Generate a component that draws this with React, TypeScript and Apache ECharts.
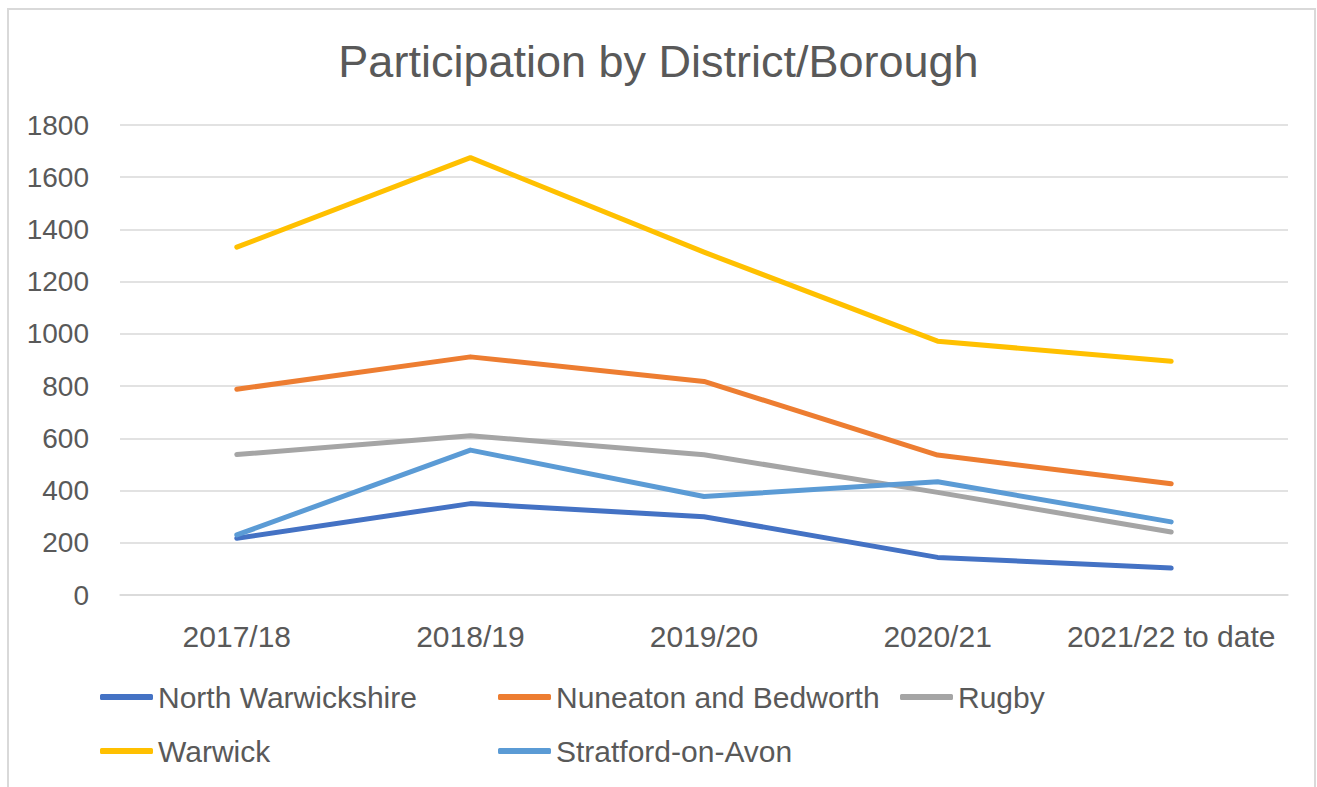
import React, { useEffect, useRef } from "react";
import * as echarts from "echarts";

const categories = ["2017/18", "2018/19", "2019/20", "2020/21", "2021/22 to date"];
const seriesNames = ["North Warwickshire", "Nuneaton and Bedworth", "Rugby", "Warwick", "Stratford-on-Avon"];
const northWarwickshire = [217, 350, 300, 144, 103];
const nuneatonBedworth = [788, 912, 818, 536, 426];
const rugby = [538, 610, 537, 393, 241];
const warwick = [1332, 1675, 1313, 972, 895];
const stratford = [230, 555, 377, 434, 280];
const seriesColors = ["#4472C4", "#ED7D31", "#A5A5A5", "#FFC000", "#5B9BD5"];
const yTicks = { min: 0, max: 1800, interval: 200 };

const FONT = "'Liberation Sans', Arial, sans-serif";
const TXT = "#595959";

export default function App() {
  const ref = useRef<HTMLDivElement>(null);
  useEffect(() => {
    if (!ref.current) return;
    const chart = echarts.init(ref.current, undefined, { renderer: "svg" });
    const values = [northWarwickshire, nuneatonBedworth, rugby, warwick, stratford];
    const legendPos = [
      { left: 100, top: 682 },
      { left: 498, top: 682 },
      { left: 900, top: 682 },
      { left: 100, top: 736 },
      { left: 498, top: 736 },
    ];
    chart.setOption({
      animation: false,
      backgroundColor: "#ffffff",
      textStyle: { fontFamily: FONT },
      title: {
        text: "Participation by District/Borough",
        left: "center",
        top: 34,
        textStyle: { fontFamily: FONT, fontSize: 45, fontWeight: "normal", color: TXT },
      },
      graphic: [
        {
          type: "rect",
          shape: { x: 8, y: 9, width: 1307, height: 800 },
          style: { fill: "none", stroke: "#d9d9d9", lineWidth: 2 },
          silent: true,
        },
      ],
      legend: seriesNames.map((n, i) => ({
        data: [n],
        left: legendPos[i].left,
        top: legendPos[i].top,
        padding: 0,
        icon: "roundRect",
        itemWidth: 53,
        itemHeight: 6,
        itemGap: 0,
        textStyle: { fontFamily: FONT, fontSize: 30, color: TXT },
      })),
      grid: { left: 120, right: 29, top: 125, bottom: 192, containLabel: false },
      xAxis: {
        type: "category",
        data: categories,
        boundaryGap: true,
        axisLine: { show: true, lineStyle: { color: "#d9d9d9", width: 1.5 } },
        axisTick: { show: false },
        axisLabel: { fontFamily: FONT, fontSize: 30, color: TXT, margin: 26, interval: 0 },
      },
      yAxis: {
        type: "value",
        min: yTicks.min,
        max: yTicks.max,
        interval: yTicks.interval,
        axisLine: { show: false },
        axisTick: { show: false },
        splitLine: { show: true, lineStyle: { color: "#d9d9d9", width: 1.5 } },
        axisLabel: {
          fontFamily: FONT,
          fontSize: 28,
          color: TXT,
          margin: 31,
          formatter: (v: number) => String(v),
        },
      },
      series: seriesNames.map((n, i) => ({
        name: n,
        type: "line",
        data: values[i],
        symbol: "none",
        color: seriesColors[i],
        lineStyle: { width: 5, color: seriesColors[i], cap: "round", join: "round" },
        itemStyle: { color: seriesColors[i] },
      })),
    });
    return () => chart.dispose();
  }, []);
  return (
    <div
      ref={ref}
      style={{ position: "absolute", left: 0, top: 0, width: 1317, height: 787 }}
    />
  );
}
